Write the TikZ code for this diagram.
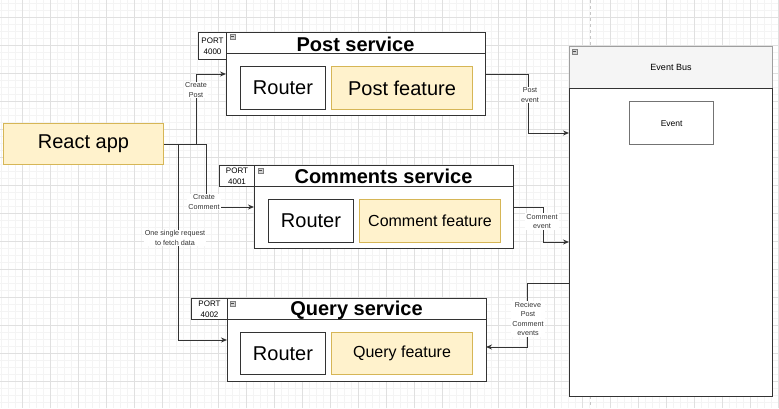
\documentclass[tikz,border=0pt]{standalone}
\usepackage{fontspec}
\setmainfont{Liberation Sans}
\usetikzlibrary{arrows.meta}
\definecolor{note}{HTML}{FFF2CC}
\definecolor{noteline}{HTML}{D6B656}
\definecolor{laneline}{HTML}{333333}
\definecolor{headgray}{HTML}{F5F5F5}
\definecolor{gridmajor}{HTML}{E0E0E0}
\definecolor{gridminor}{HTML}{F4F4F4}
\tikzset{
	box/.style={draw=laneline,fill=white,line width=1pt,inner sep=0pt,anchor=north west},
	feat/.style={box,draw=noteline,fill=note},
	big/.style={font=\fontsize{20}{24}\selectfont},
	mid/.style={font=\fontsize{16}{19}\selectfont},
	title/.style={inner sep=0pt,anchor=base,font=\bfseries\fontsize{20}{24}\selectfont},
	port/.style={box,align=center,font=\fontsize{8}{11}\selectfont},
	lbl/.style={fill=white,inner sep=1pt,align=center,text=laneline,font=\fontsize{7.2}{9.5}\selectfont},
	link/.style={draw=laneline,line width=1pt,-{Stealth[length=6pt,width=5pt]}},
	mini/.style={draw=gray,fill=gray!35,line width=.6pt,minimum size=5pt,inner sep=0pt,anchor=north west,
		path picture={\draw[black!70,line width=.8pt] ([xshift=1pt]path picture bounding box.west) -- ([xshift=-1pt]path picture bounding box.east);}}
}

\begin{document}
\begin{tikzpicture}[x=1pt,y=-1pt]
	\useasboundingbox (0,0) rectangle (779,408);
	
	% canvas
	\fill[white] (0,0) rectangle (779,408);
	\begin{scope}[shift={(22,17)}]
	\draw[gridminor,line width=.8pt,step=7pt] (-22,391) grid (757,-17);
	\draw[gridmajor,line width=1pt,step=28pt] (-22,391) grid (757,-17);
	\end{scope}
	\draw[gray!45,line width=.8pt,dash pattern=on 3pt off 3pt] (590,0) -- (590,408);
	
	\node[feat,big,minimum width=160pt,minimum height=41pt] (react) at (3,123) {React app};
	
	% post service
	\node[box,minimum width=259pt,minimum height=83pt] (postsvc) at (226,32) {};
	\node[box,minimum width=259pt,minimum height=21pt] (posthead) at (226,32) {};
	\node[title] (posttitle) at (355.5,51) {Post service};
	\node[port,minimum width=28pt,minimum height=27pt] (postport) at (198,32) {PORT\\4000};
	\node[mini] (postmin) at (229.5,34) {};
	\node[box,big,minimum width=85pt,minimum height=43pt] (postrt) at (240,66) {Router};
	\node[feat,big,minimum width=141pt,minimum height=43pt] (postfeat) at (331,66) {Post feature};
	
	% comments service
	\node[box,minimum width=259pt,minimum height=83pt] (commsvc) at (254,165) {};
	\node[box,minimum width=259pt,minimum height=21pt] (commhead) at (254,165) {};
	\node[title] (commtitle) at (383.5,183) {Comments service};
	\node[port,minimum width=35pt,minimum height=21pt] (commport) at (219,165) {PORT\\4001};
	\node[mini] (commmin) at (257.5,167.5) {};
	\node[box,big,minimum width=85pt,minimum height=43pt] (commrt) at (268,199) {Router};
	\node[feat,mid,minimum width=141pt,minimum height=43pt] (commfeat) at (359,199) {Comment feature};
	
	% query service
	\node[box,minimum width=259pt,minimum height=83pt] (qrysvc) at (227,298) {};
	\node[box,minimum width=259pt,minimum height=21pt] (qryhead) at (227,298) {};
	\node[title] (qrytitle) at (356.5,315.5) {Query service};
	\node[port,minimum width=36pt,minimum height=21pt] (qryport) at (191,298) {PORT\\4002};
	\node[mini] (qrymin) at (229.5,300.5) {};
	\node[box,big,minimum width=85pt,minimum height=42pt] (qryrt) at (240,332) {Router};
	\node[feat,mid,minimum width=141pt,minimum height=42pt] (qryfeat) at (331,332) {Query feature};
	
	% event bus
	\node[box,draw=gray!75,fill=headgray,minimum width=203pt,minimum height=42pt,font=\fontsize{9}{11}\selectfont] (bushead) at (569,46) {Event Bus};
	\node[box,minimum width=203pt,minimum height=308pt] (bus) at (569,88) {};
	\node[mini] (busmin) at (572,48.5) {};
	\node[box,draw=black!55,line width=1.3pt,minimum width=84pt,minimum height=43pt,font=\fontsize{8.5}{10}\selectfont] (event) at (629,101) {Event};
	\coordinate (busin1) at (569,133);
	\coordinate (busin2) at (569,242);
	\coordinate (busout) at (569,283);
	\coordinate (qryin) at (486,347);
	
	% requests
	\draw[link] (react.east) -- ++(32,0) |- (postsvc.west) node[lbl] at (196,90) {Create\\Post};
	\draw[link] (react.east) -- ++(42,0) |- (commsvc.west) node[lbl] at (204,202) {Create\\Comment};
	\draw[link] (react.east) -- ++(14,0) |- (qrysvc.west) node[lbl] at (175,238) {One single request\\to fetch data};
	
	% events
	\draw[link] (postsvc.east) -- ++(42,0) |- (busin1) node[lbl] at (530,95) {Post\\event};
	\draw[link] (commsvc.east) -- ++(29,0) |- (busin2) node[lbl] at (542,221.5) {Comment\\event};
	\draw[link] (busout) -- ++(-42,0) |- (qryin) node[lbl] at (528,319) {Recieve\\Post\\Comment\\events};
	
\end{tikzpicture}
\end{document}
